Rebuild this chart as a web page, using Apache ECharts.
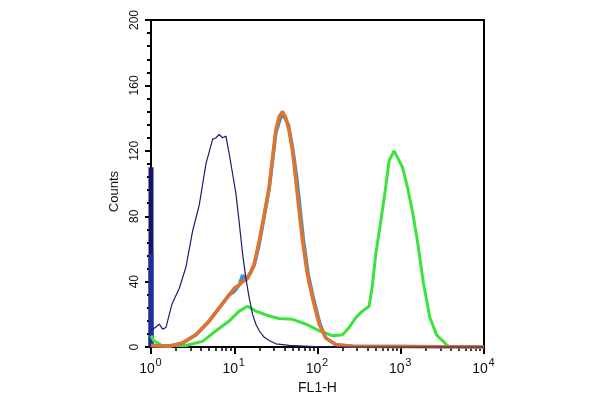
<!DOCTYPE html>
<html><head><meta charset="utf-8">
<script src="https://cdn.jsdelivr.net/npm/echarts@6/dist/echarts.min.js"></script>
<style>html,body{margin:0;padding:0;background:#fff}#c{width:600px;height:400px}</style>
</head><body><div id="c"></div>
<script>
// x positions are decades: log10(FL1-H)
const xDecades = [0, 1, 2, 3, 4];
const yTicks = [0, 40, 80, 120, 160, 200];
const firstChannelNavy = 110;
const firstChannelBlue = 57;

const navyX = [0,0.05,0.1,0.14,0.18,0.25,0.34,0.42,0.5,0.58,0.66,0.74,0.78,0.82,0.86,0.9,0.94,0.98,1.02,1.06,1.1,1.14,1.18,1.22,1.26,1.3,1.36,1.42,1.5,1.66,1.9,2.14,4];
const navyY = [10,12,14,11,12,26,36,49,71,87,112,127,128,130,128,129,118,106,94,76,57,42,30,20,14,10,6,4,2,1,0.5,0,0];

const blueX = [0,0.22,0.38,0.54,0.7,0.82,0.94,1.0,1.06,1.1,1.14,1.2,1.24,1.3,1.36,1.42,1.46,1.5,1.56,1.6,1.65,1.7,1.75,1.79,1.83,1.89,1.95,2.03,2.1,2.22,2.42,4];
const blueY = [1,0.5,2.5,7.5,16,24,32,34,38,44,41,46,50,63,80,97,114,131,141,141,136,122,104,85,66,44,30,14,5.5,1.5,0.5,0];

const orangeX = [0,0.22,0.38,0.54,0.7,0.82,0.94,1.0,1.06,1.1,1.16,1.2,1.24,1.3,1.36,1.42,1.46,1.5,1.54,1.58,1.62,1.66,1.7,1.74,1.78,1.82,1.88,1.94,2.02,2.1,2.22,2.42,4];
const orangeY = [1,0.5,2.5,7.5,16,24,32,36,38,40,42,46,51,65,81,98,116,133,141,144,140,132,120,102,83,65,44,30,14,5.5,1.5,0.5,0];

const greenX = [0,0.03,0.13,0.42,0.62,0.78,0.94,1.06,1.16,1.26,1.42,1.54,1.7,1.86,2.02,2.18,2.3,2.38,2.46,2.54,2.62,2.66,2.7,2.76,2.82,2.86,2.92,2.96,3.02,3.08,3.14,3.2,3.27,3.35,3.43,3.51,3.57,4];
const greenY = [7,4,1,1,3.5,10,16,22,25,22,19,17.5,17,14,10,7,7.5,12,18,22,25,38,57,77,98,114,120,116,110,98,83,65,40,18,7.5,3.5,0.5,0];

const zip = (xs, ys) => xs.map((x, i) => [x, ys[i]]);
const minorTickValues = [];
for (let d = 0; d < 4; d++) for (let k = 2; k <= 9; k++) minorTickValues.push(d + Math.log10(k));

const font = 'Liberation Sans, Arial, sans-serif';
const chart = echarts.init(document.getElementById('c'), null, {renderer: 'canvas'});
const lineSeries = (name, xs, ys, color, width) => ({
  name, type: 'line', data: zip(xs, ys), showSymbol: false, symbol: 'none',
  lineStyle: {color, width}, itemStyle: {color}, animation: false, clip: true
});

chart.setOption({
  animation: false,
  backgroundColor: '#fff',
  grid: {left: 151, right: 116, top: 20, bottom: 51, show: true, borderColor: '#000', borderWidth: 2, backgroundColor: 'transparent'},
  xAxis: [{
    type: 'value', min: 0, max: 4, interval: 1,
    name: 'FL1-H', nameLocation: 'middle', nameGap: 31,
    nameTextStyle: {fontFamily: font, fontSize: 14, color: '#111'},
    axisLine: {lineStyle: {color: '#000', width: 2}},
    axisTick: {show: true, length: 7, lineStyle: {color: '#000', width: 2}},
    splitLine: {show: false},
    axisLabel: {margin: 15, fontFamily: font, fontSize: 14, color: '#111',
      padding: [0, 8, 0, 0], formatter: () => '10'}
  }, {
    type: 'value', min: 0, max: 4, position: 'bottom',
    axisLine: {show: false}, axisLabel: {show: false}, splitLine: {show: false},
    axisTick: {show: true, length: 4, customValues: minorTickValues, lineStyle: {color: '#000', width: 1.5}}
  }, {
    type: 'value', min: 0, max: 4, interval: 1, position: 'bottom',
    axisLine: {show: false}, axisTick: {show: false}, splitLine: {show: false},
    axisLabel: {margin: 10, fontFamily: font, fontSize: 11, color: '#111',
      padding: [0, 0, 0, 15], formatter: v => String(xDecades[Math.round(v)])}
  }],
  yAxis: {
    type: 'value', min: 0, max: 200, interval: 40,
    name: 'Counts', nameLocation: 'middle', nameGap: 26, nameRotate: 90,
    nameTextStyle: {fontFamily: font, fontSize: 13, color: '#111', padding: [0, 16, 0, 0]},
    axisLine: {show: true, lineStyle: {color: '#000', width: 2}},
    axisTick: {show: true, length: 6, lineStyle: {color: '#000', width: 2}},
    minorTick: {show: true, splitNumber: 5, length: 4, lineStyle: {color: '#000', width: 2}},
    splitLine: {show: false},
    axisLabel: {rotate: 90, margin: 10, fontFamily: font, fontSize: 12, color: '#111',
      formatter: v => String(yTicks[Math.round(v / 40)])}
  },
  series: [
    lineSeries('green', greenX, greenY, '#3be33b', 3),
    lineSeries('blue', blueX, blueY, '#3f8fd2', 3.5),
    lineSeries('orange', orangeX, orangeY, '#e2732c', 3.5),
    lineSeries('navy', navyX, navyY, '#1e1b6e', 1.2),
    {type: 'bar', data: [[0, firstChannelNavy]], barWidth: 5, clip: false, itemStyle: {color: '#14146a'}, animation: false},
    {type: 'bar', data: [[0, firstChannelBlue]], barWidth: 5, barGap: '-100%', clip: false, itemStyle: {color: '#1f2fa0'}, animation: false}
  ]
});
</script></body></html>
